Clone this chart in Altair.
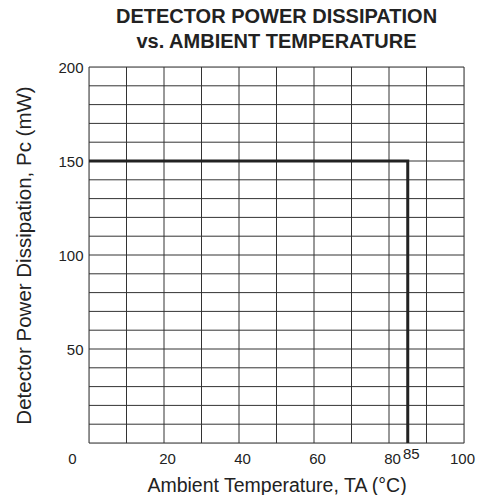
import altair as alt
import pandas as pd

# ---- data ----
x_grid = list(range(0, 101, 10))
y_grid = list(range(0, 201, 10))
x_tick_values = [0, 20, 40, 60, 80, 85, 100]
y_tick_values = [50, 100, 150, 200]
curve_temp = [0, 85, 85]
curve_power = [150, 150, 0]

FONT = "Liberation Sans"
INK = "#222222"

xs = alt.Scale(domain=[0, 100], nice=False, zero=False)
ys = alt.Scale(domain=[0, 200], nice=False, zero=False)

vgrid = alt.Chart(pd.DataFrame({"t": x_grid})).mark_rule(
    color="#333333", strokeWidth=1
).encode(
    x=alt.X(
        "t:Q",
        scale=xs,
        title="Ambient Temperature, TA (°C)",
        axis=alt.Axis(
            values=x_tick_values,
            grid=False,
            ticks=False,
            domain=False,
            labelFont=FONT,
            labelFontSize=15,
            labelColor=INK,
            labelPadding={"condition": {"test": "datum.value == 85", "value": 3}, "value": 8},
            labelOffset={
                "condition": [
                    {"test": "datum.value == 0", "value": -17},
                    {"test": "datum.value == 100", "value": -2},
                ],
                "value": 3,
            },
            labelFlush=False,
            labelOverlap=False,
            titleFont=FONT,
            titleFontSize=19.5,
            titleFontWeight="normal",
            titleColor=INK,
            titlePadding=10,
        ),
    )
)

hgrid = alt.Chart(pd.DataFrame({"p": y_grid})).mark_rule(
    color="#333333", strokeWidth=1
).encode(
    y=alt.Y(
        "p:Q",
        scale=ys,
        title="Detector Power Dissipation, Pc (mW)",
        axis=alt.Axis(
            values=y_tick_values,
            grid=False,
            ticks=False,
            domain=False,
            labelFont=FONT,
            labelFontSize=15,
            labelColor=INK,
            labelPadding=6,
            titleFont=FONT,
            titleFontSize=20.5,
            titleFontWeight="normal",
            titleColor=INK,
            titlePadding=23,
        ),
    )
)

curve = alt.Chart(
    pd.DataFrame({"t": curve_temp, "p": curve_power, "o": list(range(len(curve_temp)))})
).mark_line(color=INK, strokeWidth=3, strokeJoin="miter").encode(
    x=alt.X("t:Q", scale=xs),
    y=alt.Y("p:Q", scale=ys),
    order="o:O",
)

chart = (
    alt.layer(vgrid, hgrid, curve)
    .properties(
        width=375,
        height=376,
        title=alt.Title(
            ["DETECTOR POWER DISSIPATION", "vs. AMBIENT TEMPERATURE"],
            font=FONT,
            fontSize=20,
            fontWeight="bold",
            color=INK,
            lineHeight=25,
            anchor="middle",
            offset=8,
        ),
        autosize=alt.AutoSizeParams(type="none"),
        padding={"left": 81, "top": 59, "right": 12, "bottom": 52},
    )
    .configure_view(stroke=None)
    .configure(background="white")
)

chart.save("out.html", embed_options={"renderer": "svg", "actions": False})
